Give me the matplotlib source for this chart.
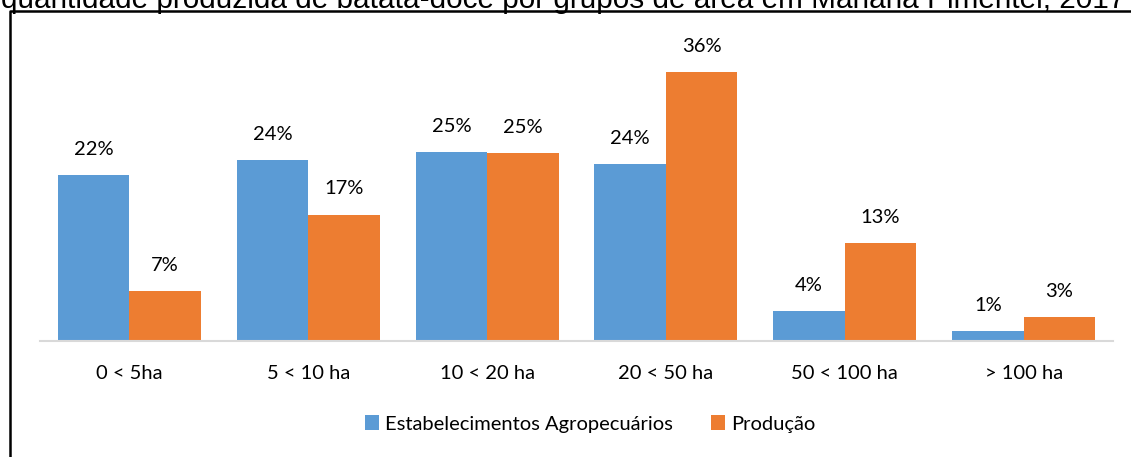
import matplotlib

matplotlib.use("Agg")
import matplotlib.pyplot as plt
import numpy as np
from matplotlib.lines import Line2D

categories = ["0 < 5ha", "5 < 10 ha", "10 < 20 ha", "20 < 50 ha", "50 < 100 ha", "> 100 ha"]
estabelecimentos = [22.2, 24.2, 25.3, 23.7, 4.0, 1.3]
producao = [6.7, 16.9, 25.1, 36.0, 13.1, 3.2]
series_names = ["Estabelecimentos Agropecuários", "Produção"]
title = "quantidade produzida de batata-doce por grupos de área em Mariana Pimentel, 2017"

BLUE = "#5B9BD5"
ORANGE = "#ED7D31"
W, H = 1131, 457

plt.rcParams["font.family"] = ["Lato", "DejaVu Sans"]

fig = plt.figure(figsize=(W / 100, H / 100), dpi=100)
ax = fig.add_axes([40 / W, 1 - 341 / H, (1113 - 40) / W, 299 / H])

x = np.arange(len(categories))
bw = 0.4
bars1 = ax.bar(x - bw / 2, estabelecimentos, bw, color=BLUE, label=series_names[0])
bars2 = ax.bar(x + bw / 2, producao, bw, color=ORANGE, label=series_names[1])

for bars in (bars1, bars2):
    for b in bars:
        ax.annotate(f"{b.get_height():.0f}%", (b.get_x() + b.get_width() / 2, b.get_height()),
                    xytext=(0, 18.5), textcoords="offset points", ha="center", va="center",
                    fontsize=14.5, color="#000000", annotation_clip=False)

ax.set_xlim(-0.5, len(categories) - 0.5)
ax.set_ylim(0, 40)
ax.set_xticks(x)
ax.set_xticklabels(categories, fontsize=14.5)
ax.tick_params(axis="x", length=0, pad=17)
ax.set_yticks([])
for s in ("top", "right", "left"):
    ax.spines[s].set_visible(False)
ax.spines["bottom"].set_color("#d9d9d9")
ax.spines["bottom"].set_linewidth(1.5)

fig.legend(loc="center", bbox_to_anchor=(590 / W, 1 - 424 / H), ncol=2, frameon=False,
           fontsize=14.5, handlelength=0.7, handleheight=0.7, handletextpad=0.3,
           columnspacing=1.9)

# frame around the chart (cut by the image edges)
fig.add_artist(Line2D([9.5 / W, 9.5 / W, 1.01], [-0.01, 1 - 11 / H, 1 - 11 / H],
                      transform=fig.transFigure, color="black", lw=1.8))

# title line, partly cut off at the top as in the source image
fig.text(1 / W, 1 - 8 / H, title, fontsize=21.4, family="Liberation Sans",
         ha="left", va="baseline")

fig.savefig("out.png", dpi=100)
